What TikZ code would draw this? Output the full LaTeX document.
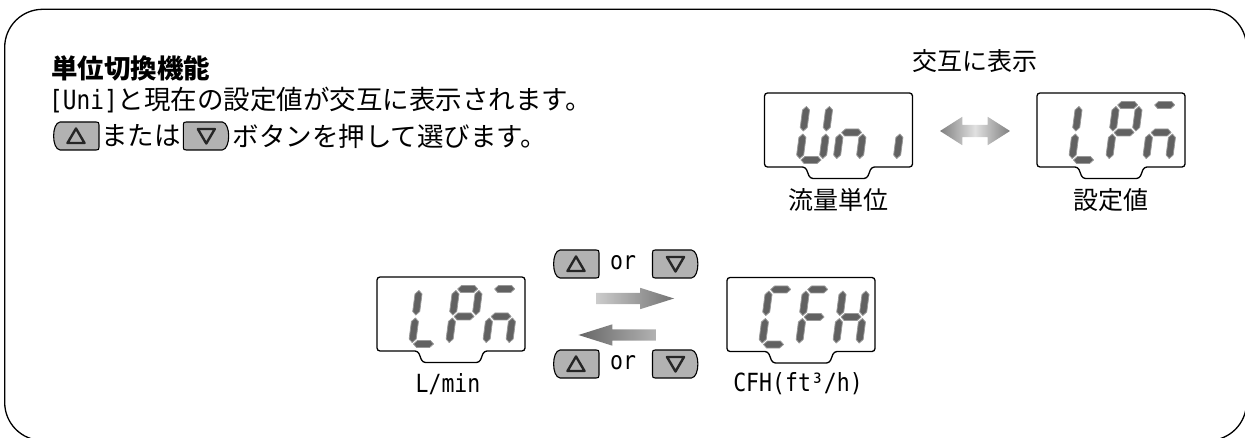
\documentclass[tikz,border=0pt]{standalone}
\usepackage{fontspec}
\setmainfont{Noto Sans CJK JP}
\newfontfamily\halfwfont{DejaVu Sans Mono}
\newcommand\hw[1]{{\halfwfont\scalebox{0.86}[1]{#1}}}
\usetikzlibrary{shapes.arrows}
\tikzset{
  frame/.style={draw=black, line width=1.3pt, rounded corners=38pt},
  body/.style={inner sep=0pt, font=\fontsize{26.5}{30}\selectfont},
  ttl/.style={inner sep=0pt, font=\fontsize{26.5}{30}\selectfont\bfseries},
  lbl/.style={inner sep=0pt, font=\fontsize{25}{28}\selectfont},
  lat/.style={inner sep=0pt, font=\fontsize{25}{28}\selectfont},
  lcdbox/.style={minimum width=148pt, minimum height=74pt, inner sep=0pt, outer sep=0pt},
  lcdline/.style={draw=black, line width=1.3pt, rounded corners=3pt, line join=round},
  lcdseg/.style={fill=black!62, draw=black!40, line width=0.8pt, line join=round},
  btn/.style={minimum width=46pt, minimum height=28pt, inner sep=0pt},
  btnshape/.style={draw=black, line width=1.1pt, fill=black!30, line join=round},
  tri/.style={draw=black!85, line width=2.4pt, line join=round},
  sarrow/.style={single arrow, single arrow head extend=5pt, single arrow tip angle=35,
                 inner xsep=0pt, inner ysep=5.5pt, minimum height=78pt, draw=none},
  darrow/.style={double arrow, double arrow head extend=8pt, double arrow tip angle=65,
                 inner xsep=0pt, inner ysep=6pt, minimum height=70pt, draw=none},
}
% seven-segment pieces (local coordinates, y up)
\newcommand\hseg[1]{\filldraw[lcdseg] (1.5,#1) -- (5,#1+3.5) -- (18,#1+3.5) -- (21.5,#1) -- (18,#1-3.5) -- (5,#1-3.5) -- cycle;}
\newcommand\vseg[3]{\filldraw[lcdseg] (#1,#2+1.5) -- (#1+3.5,#2+5) -- (#1+3.5,#3-5) -- (#1,#3-1.5) -- (#1-3.5,#3-5) -- (#1-3.5,#2+5) -- cycle;}
\newcommand\SegA{\hseg{55}}
\newcommand\SegG{\hseg{27.5}}
\newcommand\SegD{\hseg{0}}
\newcommand\SegF{\vseg{0}{27.5}{55}}
\newcommand\SegE{\vseg{0}{0}{27.5}}
\newcommand\SegB{\vseg{23}{27.5}{55}}
\newcommand\SegC{\vseg{23}{0}{27.5}}
\newcommand\lcddigit[3]{\begin{scope}[shift={(#1,#2)},xslant=0.13,yscale=-1]#3\end{scope}}
\newcommand\lcd[3]{%
  \node[lcdbox] (#1) at (#2,#3) {};
  \draw[lcdline] (#1.north west) -- (#1.north east) -- (#1.south east)
    -- ([xshift=33pt]#1.south) -- ([xshift=28.5pt,yshift=-11.5pt]#1.south)
    -- ([xshift=-28.5pt,yshift=-11.5pt]#1.south) -- ([xshift=-33pt]#1.south)
    -- (#1.south west) -- cycle;}
\newcommand\lcdtext[4]{%
  \begin{scope}[shift={(#1.south west)}]
    \lcddigit{35}{-7}{#2}
    \lcddigit{72}{-7}{#3}
    \lcddigit{109}{-7}{#4}
  \end{scope}}
\newcommand\triup[1]{\draw[tri] ([shift={(0,-7.5)}]#1.center) -- ([shift={(8.5,7)}]#1.center) -- ([shift={(-8.5,7)}]#1.center) -- cycle;}
\newcommand\tridown[1]{\draw[tri] ([shift={(0,7.5)}]#1.center) -- ([shift={(8.5,-7)}]#1.center) -- ([shift={(-8.5,-7)}]#1.center) -- cycle;}
% button with a curved left side and an up triangle
\newcommand\btnup[1]{%
  \filldraw[btnshape] ([shift={(-16,-14)}]#1.center) -- ([shift={(20,-14)}]#1.center)
    .. controls ([shift={(22.5,-14)}]#1.center) and ([shift={(23,-13.5)}]#1.center) .. ([shift={(23,-11)}]#1.center)
    -- ([shift={(23,11)}]#1.center)
    .. controls ([shift={(23,13.5)}]#1.center) and ([shift={(22.5,14)}]#1.center) .. ([shift={(20,14)}]#1.center)
    -- ([shift={(-16,14)}]#1.center)
    .. controls ([shift={(-24.5,13)}]#1.center) and ([shift={(-24.5,-13)}]#1.center) .. ([shift={(-16,-14)}]#1.center)
    -- cycle;
  \triup{#1}}
% button with a curved right side and a down triangle
\newcommand\btndown[1]{%
  \filldraw[btnshape] ([shift={(16,-14)}]#1.center) -- ([shift={(-20,-14)}]#1.center)
    .. controls ([shift={(-22.5,-14)}]#1.center) and ([shift={(-23,-13.5)}]#1.center) .. ([shift={(-23,-11)}]#1.center)
    -- ([shift={(-23,11)}]#1.center)
    .. controls ([shift={(-23,13.5)}]#1.center) and ([shift={(-22.5,14)}]#1.center) .. ([shift={(-20,14)}]#1.center)
    -- ([shift={(16,14)}]#1.center)
    .. controls ([shift={(24.5,13)}]#1.center) and ([shift={(24.5,-13)}]#1.center) .. ([shift={(16,-14)}]#1.center)
    -- cycle;
  \tridown{#1}}
\begin{document}
\begin{tikzpicture}[x=1pt,y=-1pt]
\useasboundingbox (0,0) rectangle (1245,438);
\draw[frame] (4.7,9.3) rectangle (1246.5,440.5);

% text block
\node[ttl, anchor=west] (title) at (51,68) {単位切換機能};
\node[body, anchor=west] (line2) at (49,100) {\hw{[Uni]}と現在の設定値が交互に表示されます。};
\node[btn] (tb1) at (76,136) {};
\btnup{tb1}
\node[body, anchor=west] (mataha) at ([xshift=2pt]tb1.east) {または};
\node[btn, anchor=west] (tb2) at ([xshift=2pt]mataha.east) {};
\btndown{tb2}
\node[body, anchor=west] (line3) at ([xshift=3pt]tb2.east) {ボタンを押して選びます。};

% alternating display
\node[lbl] (alt) at (975,61) {交互に表示};
\lcd{uni}{838.5}{130}
\lcdtext{uni}{\SegB\SegC\SegD\SegE\SegF}{\SegC\SegE\SegG}{\SegC}
\lcd{setv}{1111}{130}
\lcdtext{setv}{\SegD\SegE\SegF}{\SegA\SegB\SegE\SegF\SegG}{\SegA\SegC\SegE\SegG}
\node[darrow, left color=black!50, right color=black!50, middle color=black!12] (arrD) at (975,131) {};
\node[lbl] (unilbl) at (838.5,200) {流量単位};
\node[lbl] (setlbl) at (1111,200) {設定値};

% selection row
\lcd{lpm}{451}{314}
\lcdtext{lpm}{\SegD\SegE\SegF}{\SegA\SegB\SegE\SegF\SegG}{\SegA\SegC\SegE\SegG}
\lcd{cfh}{801}{314.5}
\lcdtext{cfh}{\SegA\SegD\SegE\SegF}{\SegA\SegE\SegF\SegG}{\SegB\SegC\SegE\SegF\SegG}
\node[lat] (lpmlbl) at (448,384) {\hw{L/min}};
\node[lat] (cfhlbl) at (798,384) {\hw{CFH(ft³/h)}};

\node[btn] (b1u) at (576,264) {};
\btnup{b1u}
\node[lat] (or1) at (623,263) {\hw{or}};
\node[btn] (b1d) at (675.5,264) {};
\btndown{b1d}
\node[btn] (b2u) at (576,364) {};
\btnup{b2u}
\node[lat] (or2) at (623,363) {\hw{or}};
\node[btn] (b2d) at (675.5,364) {};
\btndown{b2d}

\node[sarrow, left color=black!20, right color=black!55] (arrR) at (626,298.5) {};
\node[sarrow, shape border rotate=180, left color=black!60, right color=black!30] (arrL) at (626.5,335) {};
\end{tikzpicture}
\end{document}
